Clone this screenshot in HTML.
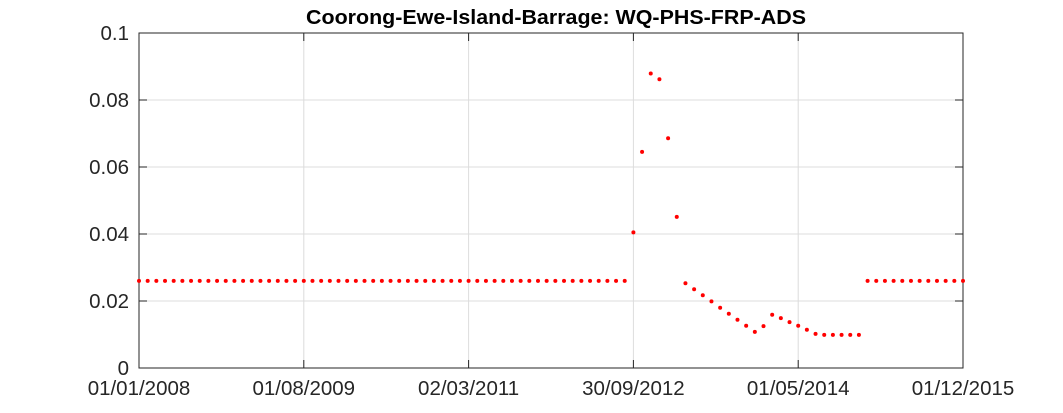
<!DOCTYPE html>
<html><head><meta charset="utf-8"><style>
body{margin:0;background:#fff;}
svg{display:block;font-family:"Liberation Sans",Arial,sans-serif;}
</style></head><body>
<svg id="chart" width="1063" height="413" viewBox="0 0 1063 413" xmlns="http://www.w3.org/2000/svg">
<rect width="1063" height="413" fill="#fff"/>
<text x="556" y="24" text-anchor="middle" font-size="20" font-weight="bold" fill="#000" textLength="500" lengthAdjust="spacingAndGlyphs">Coorong-Ewe-Island-Barrage: WQ-PHS-FRP-ADS</text>
<g id="grid"></g><g id="axes"></g><g id="points"></g>
</svg>
<script>
const xTickIdx=[0,19,38,57,76,95];
const xTickLabels=["01/01/2008","01/08/2009","02/03/2011","30/09/2012","01/05/2014","01/12/2015"];
const yTicks=[0,0.02,0.04,0.06,0.08,0.1];
const yTickLabels=["0","0.02","0.04","0.06","0.08","0.1"];
const peakValues=[0.0405,0.0645,0.0879,0.0862,0.0686,0.0451,0.0253,0.0235,0.0217,0.0199,0.0180,0.0162,0.0144,0.0126,0.0108,0.0125,0.0159,0.0149,0.0137,0.0126,0.0114,0.0102,0.0099,0.0099,0.0099,0.0099,0.0099];
const values=[].concat(Array(57).fill(0.026),peakValues,Array(12).fill(0.026));
const L=139,R=963,T=33,B=368,NS="http://www.w3.org/2000/svg";
const xs=i=>L+(R-L)*i/95, ys=v=>B-(B-T)*v/0.1;
function mk(tag,attrs,parent){const e=document.createElementNS(NS,tag);for(const k in attrs)e.setAttribute(k,attrs[k]);document.getElementById(parent).appendChild(e);return e;}
xTickIdx.forEach((t,i)=>{const x=xs(t);
 const g=mk('line',{x1:x,x2:x,y1:T,y2:B,stroke:'#dcdcdc','stroke-width':1},'grid');
 
 
 const tk=mk('line',{x1:x,x2:x,y1:B,y2:B-8,stroke:'#262626'},'axes');
 
 
 const tk2=mk('line',{x1:x,x2:x,y1:T,y2:T+8,stroke:'#262626'},'axes');
 
 
 const lb=mk('text',{x:x,y:395,'text-anchor':'middle','font-size':20.5,fill:'#262626'},'axes');lb.textContent=xTickLabels[i];
 
 
});
yTicks.forEach((v,i)=>{const y=ys(v);
 const g=mk('line',{x1:L,x2:R,y1:y,y2:y,stroke:'#dcdcdc','stroke-width':1},'grid');
 
 
 const tk=mk('line',{x1:L,x2:L+8,y1:y,y2:y,stroke:'#262626'},'axes');
 
 
 const tk2=mk('line',{x1:R,x2:R-8,y1:y,y2:y,stroke:'#262626'},'axes');
 
 
 const lb=mk('text',{x:129,y:y+7,'text-anchor':'end','font-size':20.5,fill:'#262626'},'axes');lb.textContent=yTickLabels[i];
 
 
});
const box=mk('rect',{x:L,y:T,width:R-L,height:B-T,fill:'none',stroke:'#262626','stroke-width':1},'axes');


values.forEach((v,i)=>{
 const c=mk('circle',{cx:xs(i),cy:ys(v),r:2,fill:'#ff0000'},'points');
 
 
});
</script>
</body></html>
